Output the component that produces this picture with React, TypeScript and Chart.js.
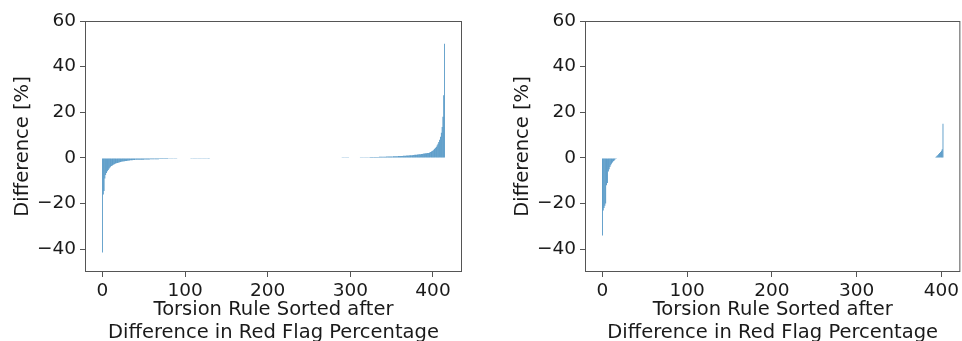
import React, { useEffect, useRef } from "react";
import { Chart, registerables } from "chart.js";

Chart.register(...registerables);

// Left panel: difference per torsion rule (sorted), indices 0..414
const leftDiff: number[] = [
  -41.5, -16, -14.5, -9, -7.5, -6.6, -5.9, -5.3, -4.8, -4.3,
  -3.9, -3.6, -3.3, -3.05, -2.85, -2.65, -2.5, -2.35, -2.2, -2.08,
  -1.97, -1.87, -1.78, -1.7, -1.62, -1.55, -1.48, -1.42, -1.36, -1.3,
  -1.25, -1.2, -1.15, -1.1, -1.06, -1.02, -0.98, -0.94, -0.91, -0.88,
  -0.85, -0.84, -0.83, -0.82, -0.81, -0.8, -0.79, -0.78, -0.775, -0.77,
  -0.76, -0.74, -0.73, -0.71, -0.7, -0.68, -0.67, -0.66, -0.64, -0.63,
  -0.62, -0.61, -0.6, -0.59, -0.58, -0.57, -0.56, -0.55, -0.54, -0.53,
  -0.52, -0.51, -0.5, -0.49, -0.48, -0.47, -0.46, -0.45, -0.44, -0.43,
  -0.42, -0.41, -0.4, -0.39, -0.38, -0.37, -0.36, -0.35, -0.34, -0.33,
  -0.32, -0.31, -0.3, -0.3, -0.29, -0.28, -0.27, -0.27, -0.26, -0.25,
  -0.25, -0.24, -0.23, -0.23, -0.22, -0.21, -0.21, -0.2, -0.2, -0.19,
  -0.19, -0.18, -0.18, -0.17, -0.17, -0.16, -0.16, -0.15, -0.15, -0.14,
  -0.14, -0.13, -0.13, -0.12, -0.12, -0.11, -0.11, -0.1, -0.1, -0.09,
  0, 0, 0, 0, 0, 0, 0, 0, 0, 0,
  0, 0, 0, 0, 0, 0, 0, 0, 0, 0,
  0, 0, 0, 0, 0, 0, 0, 0, 0, 0,
  0, 0, 0, 0, 0, 0, 0, 0, 0, 0,
  0, 0, 0, 0, 0, 0, 0, 0, 0, 0,
  0, 0, 0, 0, 0, 0, 0, 0, 0, 0,
  0, 0, 0, 0, 0, 0, 0, 0, 0, 0,
  0, 0, 0, 0, 0, 0, 0, 0, 0, 0,
  0, 0, 0, 0, 0, 0, 0, 0, 0, 0,
  0, 0, 0, 0, 0, 0, 0, 0, 0, 0,
  0, 0, 0, 0, 0, 0, 0, 0, 0, 0,
  0, 0, 0, 0, 0, 0, 0, 0, 0, 0,
  0, 0, 0, 0, 0, 0, 0, 0, 0, 0,
  0, 0, 0, 0, 0, 0, 0, 0, 0, 0,
  0, 0, 0, 0, 0, 0, 0, 0, 0, 0,
  0, 0, 0, 0, 0, 0, 0, 0, 0, 0,
  0.05, 0.06, 0.07, 0.08, 0.09, 0.1, 0.1, 0.11, 0.12, 0.13,
  0.14, 0.15, 0.15, 0.16, 0.17, 0.18, 0.19, 0.2, 0.2, 0.21,
  0.22, 0.23, 0.24, 0.25, 0.25, 0.26, 0.27, 0.28, 0.29, 0.3,
  0.31, 0.32, 0.33, 0.34, 0.35, 0.36, 0.37, 0.38, 0.39, 0.4,
  0.41, 0.42, 0.43, 0.44, 0.45, 0.46, 0.47, 0.48, 0.5, 0.51,
  0.52, 0.53, 0.55, 0.56, 0.57, 0.59, 0.6, 0.61, 0.63, 0.64,
  0.66, 0.67, 0.69, 0.7, 0.72, 0.74, 0.75, 0.77, 0.79, 0.81,
  0.83, 0.85, 0.87, 0.89, 0.91, 0.94, 0.96, 0.99, 1.01, 1.04,
  1.07, 1.1, 1.13, 1.16, 1.19, 1.22, 1.26, 1.3, 1.34, 1.38,
  1.42, 1.46, 1.5, 1.55, 1.6, 1.65, 1.7, 1.76, 1.82, 1.88,
  1.94, 2.0, 2.06, 2.12, 2.16,
  2.2, 2.4, 2.6, 2.8, 3.0, 3.3, 3.6, 4.0, 4.4, 4.9,
  5.5, 6.2, 7.0, 8.0, 9.3, 11, 13.5, 18, 27.5, 50,
];

// Right panel: difference per torsion rule (sorted), indices 0..402
// 18 negative values, 375 zeros (15 rows of 25), 10 positive values
const rightDiff: number[] = [
  -34, -23, -22, -21, -20, -12, -11, -6, -5, -4,
  -3.2, -2.6, -2, -1.5, -1.1, -0.7, -0.4, -0.2,
  0, 0, 0, 0, 0,  0, 0, 0, 0, 0,  0, 0, 0, 0, 0,  0, 0, 0, 0, 0,  0, 0, 0, 0, 0,
  0, 0, 0, 0, 0,  0, 0, 0, 0, 0,  0, 0, 0, 0, 0,  0, 0, 0, 0, 0,  0, 0, 0, 0, 0,
  0, 0, 0, 0, 0,  0, 0, 0, 0, 0,  0, 0, 0, 0, 0,  0, 0, 0, 0, 0,  0, 0, 0, 0, 0,
  0, 0, 0, 0, 0,  0, 0, 0, 0, 0,  0, 0, 0, 0, 0,  0, 0, 0, 0, 0,  0, 0, 0, 0, 0,
  0, 0, 0, 0, 0,  0, 0, 0, 0, 0,  0, 0, 0, 0, 0,  0, 0, 0, 0, 0,  0, 0, 0, 0, 0,
  0, 0, 0, 0, 0,  0, 0, 0, 0, 0,  0, 0, 0, 0, 0,  0, 0, 0, 0, 0,  0, 0, 0, 0, 0,
  0, 0, 0, 0, 0,  0, 0, 0, 0, 0,  0, 0, 0, 0, 0,  0, 0, 0, 0, 0,  0, 0, 0, 0, 0,
  0, 0, 0, 0, 0,  0, 0, 0, 0, 0,  0, 0, 0, 0, 0,  0, 0, 0, 0, 0,  0, 0, 0, 0, 0,
  0, 0, 0, 0, 0,  0, 0, 0, 0, 0,  0, 0, 0, 0, 0,  0, 0, 0, 0, 0,  0, 0, 0, 0, 0,
  0, 0, 0, 0, 0,  0, 0, 0, 0, 0,  0, 0, 0, 0, 0,  0, 0, 0, 0, 0,  0, 0, 0, 0, 0,
  0, 0, 0, 0, 0,  0, 0, 0, 0, 0,  0, 0, 0, 0, 0,  0, 0, 0, 0, 0,  0, 0, 0, 0, 0,
  0, 0, 0, 0, 0,  0, 0, 0, 0, 0,  0, 0, 0, 0, 0,  0, 0, 0, 0, 0,  0, 0, 0, 0, 0,
  0, 0, 0, 0, 0,  0, 0, 0, 0, 0,  0, 0, 0, 0, 0,  0, 0, 0, 0, 0,  0, 0, 0, 0, 0,
  0, 0, 0, 0, 0,  0, 0, 0, 0, 0,  0, 0, 0, 0, 0,  0, 0, 0, 0, 0,  0, 0, 0, 0, 0,
  0, 0, 0, 0, 0,  0, 0, 0, 0, 0,  0, 0, 0, 0, 0,  0, 0, 0, 0, 0,  0, 0, 0, 0, 0,
  0.3, 0.6, 0.9, 1.3, 1.7, 2.1, 2.6, 3.1, 3.8, 15,
];

const xTicks = [0, 100, 200, 300, 400];
const yTicks = [-40, -20, 0, 20, 40, 60];
const yMin = -50;
const yMax = 60;
const yTitle = "Difference [%]";
const xTitle = ["Torsion Rule Sorted after", "Difference in Red Flag Percentage"];

const FONT = "'DejaVu Sans', sans-serif";
const CANVAS_H = 344;
const PLOT_TOP = 21;
const PLOT_BOTTOM = 272;
const AXIS_W = 85;
const INK = "#1a1a1a";
const SPINE = "#555";
const BAR = "#1f77b4";

const framePlugin = {
  id: "frame",
  afterDraw(chart: any) {
    const { ctx, chartArea: a } = chart;
    ctx.save();
    ctx.strokeStyle = SPINE;
    ctx.lineWidth = 1;
    ctx.strokeRect(a.left + 0.5, a.top + 0.5, a.right - a.left - 1, a.bottom - a.top - 1);
    ctx.restore();
  },
};

const fmt = (v: number) => (v < 0 ? "\u2212" + Math.abs(v) : String(v));

function Panel(props: { values: number[]; xMin: number; xMax: number; left: number; width: number; padRight: number }) {
  const ref = useRef<HTMLCanvasElement | null>(null);
  useEffect(() => {
    if (!ref.current) return;
    const pts = props.values.map((v, i) => ({ x: i, y: v }));
    const chart = new Chart(ref.current, {
      type: "bar",
      data: {
        datasets: [
          {
            data: pts as any,
            backgroundColor: BAR,
            borderWidth: 0,
            barPercentage: 0.8,
            categoryPercentage: 1,
          },
        ],
      },
      options: {
        animation: false,
        responsive: false,
        devicePixelRatio: 1,
        layout: { padding: { top: PLOT_TOP, right: props.padRight, left: 0, bottom: 0 } },
        plugins: { legend: { display: false }, tooltip: { enabled: false } },
        scales: {
          x: {
            type: "linear",
            min: props.xMin,
            max: props.xMax,
            offset: false,
            afterBuildTicks: (s: any) => {
              s.ticks = xTicks.map((v) => ({ value: v }));
            },
            afterFit: (s: any) => {
              s.height = CANVAS_H - PLOT_BOTTOM;
            },
            grid: {
              display: true,
              offset: false,
              drawOnChartArea: false,
              drawTicks: true,
              tickLength: 5,
              tickColor: SPINE,
            },
            border: { display: false },
            ticks: {
              font: { family: FONT, size: 18.5 },
              color: INK,
              padding: 3,
              maxRotation: 0,
              autoSkip: false,
              callback: (v: any) => fmt(Number(v)),
            },
            title: {
              display: true,
              text: xTitle,
              color: INK,
              font: { family: FONT, size: 19.5, lineHeight: 1.15 },
              padding: { top: 0, bottom: 0 },
            },
          },
          y: {
            type: "linear",
            min: yMin,
            max: yMax,
            afterBuildTicks: (s: any) => {
              s.ticks = yTicks.map((v) => ({ value: v }));
            },
            afterFit: (s: any) => {
              s.width = AXIS_W;
            },
            grid: {
              display: true,
              offset: false,
              drawOnChartArea: false,
              drawTicks: true,
              tickLength: 5,
              tickColor: SPINE,
            },
            border: { display: false },
            ticks: {
              font: { family: FONT, size: 18.5 },
              color: INK,
              padding: 4,
              autoSkip: false,
              callback: (v: any) => fmt(Number(v)),
            },
            title: {
              display: true,
              text: yTitle,
              color: INK,
              font: { family: FONT, size: 19.5, lineHeight: 1.2 },
              padding: { top: 11, bottom: 0 },
            },
          },
        },
      },
      plugins: [framePlugin],
    });
    return () => chart.destroy();
  }, []);
  return (
    <canvas
      ref={ref}
      width={props.width}
      height={CANVAS_H}
      style={{ position: "absolute", left: props.left, top: 0, width: props.width, height: CANVAS_H }}
    />
  );
}

export default function App() {
  return (
    <div
      style={{
        position: "fixed",
        left: 0,
        top: 0,
        width: 962,
        height: 341,
        overflow: "hidden",
        background: "#fff",
      }}
    >
      <Panel values={leftDiff} xMin={-21.1} xMax={435.1} left={0} width={470} padRight={8} />
      <Panel values={rightDiff} xMin={-20.5} xMax={422.5} left={500} width={462} padRight={1} />
    </div>
  );
}
